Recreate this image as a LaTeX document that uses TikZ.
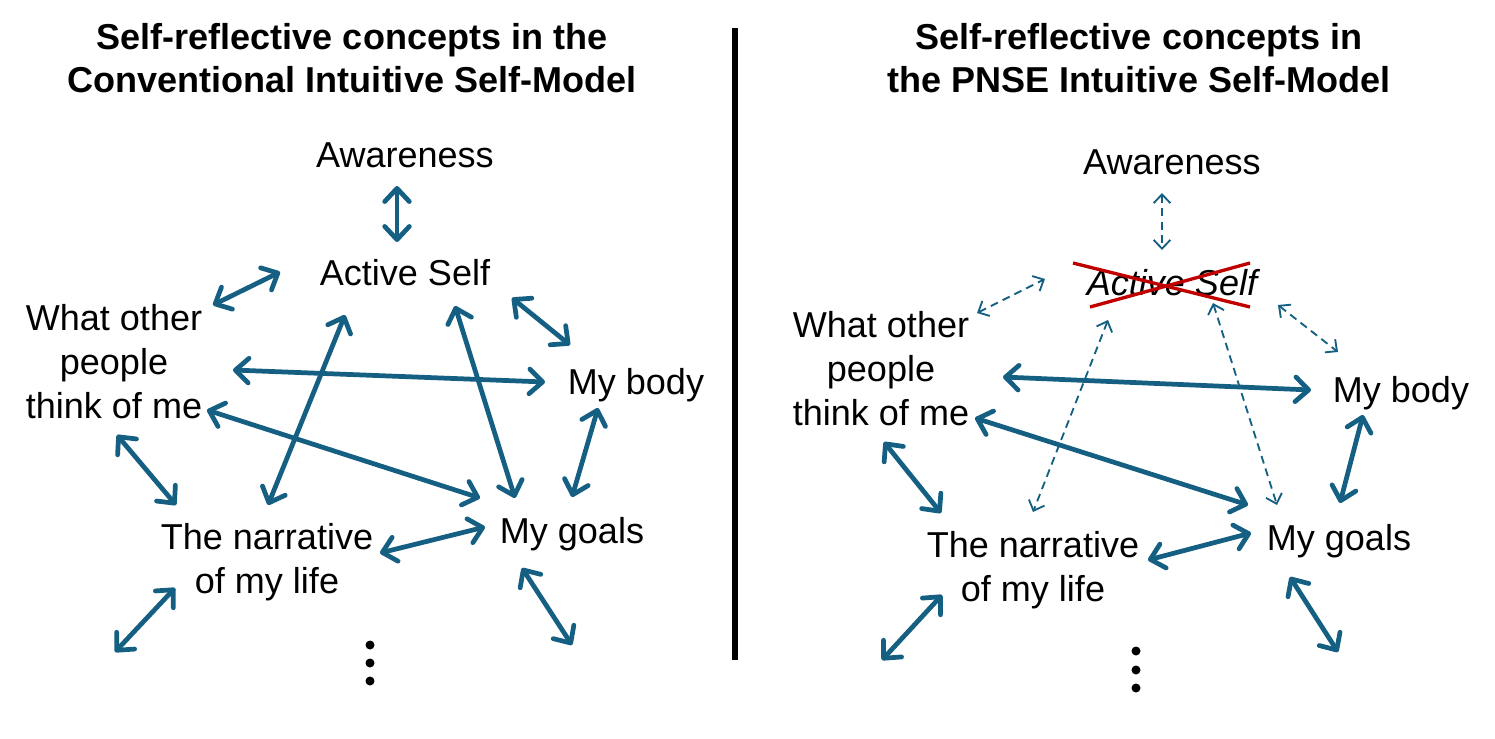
\documentclass[tikz,border=0pt]{standalone}
\usepackage{fontspec}
\setmainfont{Liberation Sans}
\usetikzlibrary{arrows.meta}

\definecolor{arrowblue}{HTML}{156082}
\definecolor{crossred}{HTML}{C00000}

\tikzset{
    concept/.style={font=\fontsize{20.5}{25}\selectfont, align=center, inner sep=0pt},
    headline/.style={font=\bfseries\fontsize{20.5}{24.5}\selectfont, align=center, inner sep=0pt},
    link/.style={draw=arrowblue, line width=2.7pt,
        {Straight Barb[length=7.5pt,width=14pt,round]}-{Straight Barb[length=7.5pt,width=14pt,round]}},
    weaklink/.style={draw=arrowblue, line width=1.05pt, dash pattern=on 4.5pt off 3pt,
        {Straight Barb[length=5pt,width=9.5pt]}-{Straight Barb[length=5pt,width=9.5pt]}}
}

\begin{document}
\begin{tikzpicture}[x=0.2mm, y=-0.2mm]
    \useasboundingbox (0,0) rectangle (1495,738);

    % left panel
    \node[headline] (titleL) at (352,58) {Self-reflective concepts in the\\Conventional Intuitive Self-Model};

    \node[concept] (aw)    at (405,155) {Awareness};
    \node[concept] (as)    at (405,273) {Active Self};
    \node[concept] (who)   at (114,362) {What other\\people\\think of me};
    \node[concept] (body)  at (636,385) {My body};
    \node[concept] (narr)  at (267,562) {The narrative\\of my life};
    \node[concept] (goals) at (572,534) {My goals};

    \coordinate (freeLa) at (115,652);
    \coordinate (freeLb) at (572,645);

    \draw[link] ([shift={(-8,31)}]aw.center) -- ([shift={(-8,-31)}]as.center);
    \draw[link] ([shift={(99,-57)}]who.center) -- ([shift={(-125,-1)}]as.center);
    \draw[link] ([shift={(107,25)}]as.center) -- ([shift={(-66,-40)}]body.center);
    \draw[link] ([shift={(119,8)}]who.center) -- ([shift={(-91,-3)}]body.center);
    \draw[link] ([shift={(93,48)}]who.center) -- ([shift={(-92,-36)}]goals.center);
    \draw[link] ([shift={(-60,42)}]as.center) -- ([shift={(1,-57)}]narr.center);
    \draw[link] ([shift={(50,33)}]as.center) -- ([shift={(-57,-36)}]goals.center);
    \draw[link] ([shift={(-38,23)}]body.center) -- ([shift={(0,-37)}]goals.center);
    \draw[link] ([shift={(3,73)}]who.center) -- ([shift={(-91,-57)}]narr.center);
    \draw[link] ([shift={(113,-9)}]narr.center) -- ([shift={(-87,-7)}]goals.center);
    \draw[link] ([shift={(-92,26)}]narr.center) -- (freeLa);
    \draw[link] ([shift={(-50,34)}]goals.center) -- (freeLb);

    \foreach \y in {645,663,681}
    \fill (370,\y) circle (4.5);

    % divider
    \draw[line width=3.4pt] (735,28) -- (735,660);

    % right panel
    \node[headline] (titleR) at (1139,58) {Self-reflective concepts in\\the PNSE Intuitive Self-Model};

    \node[concept] (aw2)    at (1172,162) {Awareness};
    \node[concept] (as2)    at (1172,283) {\itshape Active Self};
    \node[concept] (who2)   at (881,369) {What other\\people\\think of me};
    \node[concept] (body2)  at (1401,393) {My body};
    \node[concept] (narr2)  at (1033,570) {The narrative\\of my life};
    \node[concept] (goals2) at (1339,541) {My goals};

    \coordinate (freeRa) at (882,660);
    \coordinate (freeRb) at (1338,652);

    \draw[crossred, line width=1.9pt] ([shift={(-99,-20)}]as2.center) -- ([shift={(78,24)}]as2.center);
    \draw[crossred, line width=1.9pt] ([shift={(-82,24)}]as2.center) -- ([shift={(78,-20)}]as2.center);

    \draw[weaklink] ([shift={(-10,31)}]aw2.center) -- ([shift={(-10,-33)}]as2.center);
    \draw[weaklink] ([shift={(96,-56)}]who2.center) -- ([shift={(-127,-4)}]as2.center);
    \draw[weaklink] ([shift={(106,22)}]as2.center) -- ([shift={(-63,-41)}]body2.center);
    \draw[link] ([shift={(122,8)}]who2.center) -- ([shift={(-90,-3)}]body2.center);
    \draw[link] ([shift={(94,49)}]who2.center) -- ([shift={(-91,-36)}]goals2.center);
    \draw[weaklink] ([shift={(-64,37)}]as2.center) -- ([shift={(0,-58)}]narr2.center);
    \draw[weaklink] ([shift={(41,20)}]as2.center) -- ([shift={(-62,-36)}]goals2.center);
    \draw[link] ([shift={(-38,22)}]body2.center) -- ([shift={(1,-38)}]goals2.center);
    \draw[link] ([shift={(3,73)}]who2.center) -- ([shift={(-92,-57)}]narr2.center);
    \draw[link] ([shift={(115,-10)}]narr2.center) -- ([shift={(-88,-8)}]goals2.center);
    \draw[link] ([shift={(-91,25)}]narr2.center) -- (freeRa);
    \draw[link] ([shift={(-49,36)}]goals2.center) -- (freeRb);

    \foreach \y in {651,670,688}
    \fill (1136,\y) circle (4.5);

\end{tikzpicture}
\end{document}
